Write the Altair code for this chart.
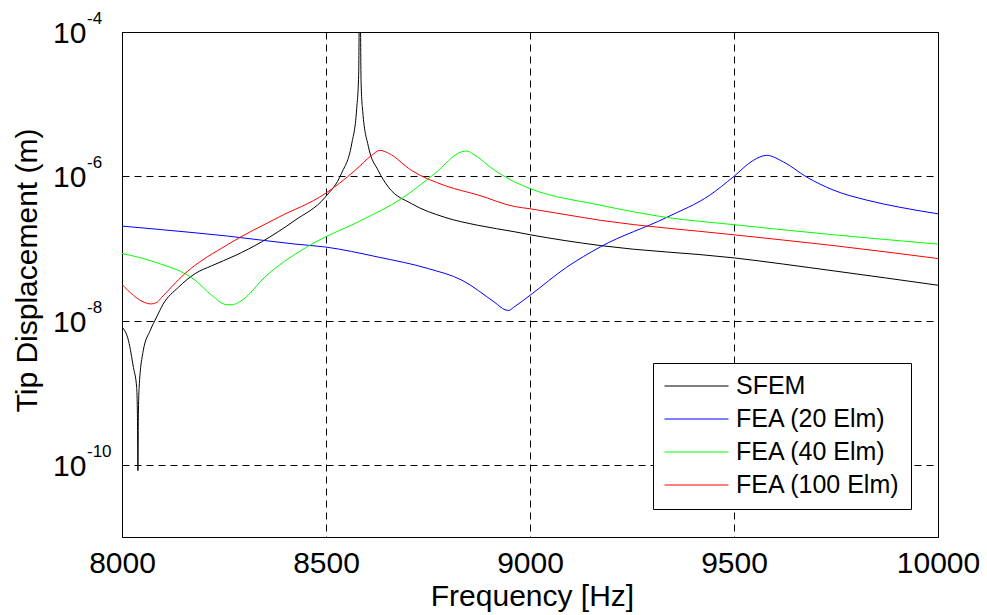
import altair as alt
import pandas as pd

# ---- data (frequency in Hz, log10 of tip displacement in m) ----
series_names = ["SFEM", "FEA (20 Elm)", "FEA (40 Elm)", "FEA (100 Elm)"]
series_colors = ["#000000", "#0000ff", "#00ff00", "#ff0000"]

sfem_f = [8000, 8016, 8028, 8036, 8038, 8039, 8040, 8042, 8052, 8069, 8085, 8100, 8138,
          8179, 8220, 8277, 8342, 8424, 8498, 8538, 8563, 8575, 8580, 8583, 8586, 8590,
          8604, 8628, 8653, 8710, 8792, 8873, 8963, 9000, 9172, 9498, 9743, 10000]
sfem_log = [-8.09, -8.28, -8.65, -8.93, -9.40, -10.08, -9.35, -8.93, -8.42, -8.14, -7.95,
            -7.78, -7.54, -7.35, -7.24, -7.10, -6.91, -6.61, -6.29, -5.96, -5.55, -5.08,
            -4.60, -3.00, -4.70, -5.10, -5.59, -5.92, -6.15, -6.38, -6.57, -6.68, -6.77,
            -6.81, -6.96, -7.13, -7.31, -7.51]

fea20_f = [8000, 8097, 8261, 8424, 8498, 8628, 8751, 8833, 8914, 8939, 8948, 8959, 9000,
           9090, 9172, 9335, 9441, 9498, 9547, 9580, 9621, 9678, 9743, 9825, 9907, 10000]
fea20_log = [-6.69, -6.74, -6.83, -6.94, -6.98, -7.12, -7.28, -7.44, -7.75, -7.85, -7.86,
             -7.82, -7.65, -7.26, -6.98, -6.57, -6.26, -6.01, -5.78, -5.71, -5.80, -6.01,
             -6.19, -6.33, -6.43, -6.52]

fea40_f = [8000, 8081, 8179, 8220, 8257, 8270, 8285, 8359, 8465, 8587, 8685, 8767, 8833,
           8845, 8857, 8914, 8963, 9000, 9172, 9335, 9498, 9743, 10000]
fea40_log = [-7.07, -7.19, -7.44, -7.65, -7.78, -7.78, -7.75, -7.35, -6.94, -6.61, -6.31,
             -5.96, -5.66, -5.65, -5.68, -5.92, -6.08, -6.17, -6.40, -6.57, -6.67, -6.81,
             -6.94]

fea100_f = [8000, 8056, 8070, 8085, 8097, 8154, 8261, 8383, 8498, 8571, 8612, 8632, 8653,
            8710, 8792, 8873, 8963, 9000, 9172, 9498, 9743, 10000]
fea100_log = [-7.50, -7.75, -7.77, -7.75, -7.68, -7.35, -6.94, -6.57, -6.24, -5.92, -5.71,
              -5.64, -5.68, -5.92, -6.13, -6.26, -6.42, -6.45, -6.61, -6.81, -6.96, -7.14]

x_ticks = [8000, 8500, 9000, 9500, 10000]
y_ticks = [1e-4, 1e-6, 1e-8, 1e-10]
y_tick_exponents = ["-4", "-6", "-8", "-10"]

# ---- build tables ----
rows = []
for name, fs, ls in zip(series_names,
                        [sfem_f, fea20_f, fea40_f, fea100_f],
                        [sfem_log, fea20_log, fea40_log, fea100_log]):
    for f, l in zip(fs, ls):
        rows.append({"freq": f, "disp": 10.0 ** l, "series": name})
df = pd.DataFrame(rows)
ticks_df = pd.DataFrame({"disp": y_ticks, "base": ["10"] * len(y_ticks), "exp": y_tick_exponents})

FONT = "Liberation Sans"
yscale = alt.Scale(type="log", domain=[1e-11, 1e-4], nice=False)
xscale = alt.Scale(domain=[8000, 10000], nice=False)

yaxis = alt.Axis(values=y_ticks, labels=False, ticks=False, domain=False,
                 grid=True, gridDash=[7, 5], gridColor="black", gridOpacity=1,
                 title="Tip Displacement (m)", titleFontSize=30, titleFont=FONT,
                 titleFontWeight="normal", titleColor="black",
                 titleX=-95, titleY=238, titleAngle=270,
                 titleAlign="center", titleBaseline="middle")

lines = alt.Chart(df).mark_line(strokeWidth=1, clip=True, interpolate="monotone").encode(
    x=alt.X("freq:Q", scale=xscale,
            axis=alt.Axis(values=x_ticks, format="d", title="Frequency [Hz]", ticks=False,
                          domain=False, labelFontSize=30, labelFont=FONT, labelColor="black",
                          labelPadding=11, labelFlush=False, labelOverlap=False,
                          grid=True, gridDash=[7, 5], gridColor="black", gridOpacity=1,
                          titleFontSize=30, titleFont=FONT, titleFontWeight="normal",
                          titleColor="black", titleX=410, titleY=59,
                          titleBaseline="middle", titleAlign="center")),
    y=alt.Y("disp:Q", scale=yscale, axis=yaxis),
    color=alt.Color("series:N",
                    scale=alt.Scale(domain=series_names, range=series_colors),
                    sort=series_names,
                    legend=alt.Legend(title=None, orient="none", legendX=531, legendY=331,
                                      symbolType="stroke", symbolSize=4096,
                                      symbolStrokeWidth=1, clipHeight=24, rowPadding=8,
                                      labelFontSize=25, labelFont=FONT, labelColor="black",
                                      labelOffset=7, labelLimit=0, padding=11,
                                      strokeColor="black", fillColor="white",
                                      cornerRadius=0)),
)

base_labels = alt.Chart(ticks_df).mark_text(
    align="left", baseline="middle", fontSize=30, font=FONT, color="black", dy=2
).encode(x=alt.value(-69), y=alt.Y("disp:Q", scale=yscale, axis=yaxis), text="base:N")

exp_labels = alt.Chart(ticks_df).mark_text(
    align="left", baseline="middle", fontSize=17, font=FONT, color="black", dy=-13
).encode(x=alt.value(-35), y=alt.Y("disp:Q", scale=yscale, axis=yaxis), text="exp:N")

chart = alt.layer(lines, base_labels, exp_labels).properties(
    width=816, height=505,
    padding={"left": 122, "top": 32, "right": 49, "bottom": 78},
    autosize=alt.AutoSizeParams(type="none"),
    background="white",
).configure_view(stroke="black", strokeWidth=1)

chart.save("out.html", embed_options={"renderer": "svg", "actions": False})
